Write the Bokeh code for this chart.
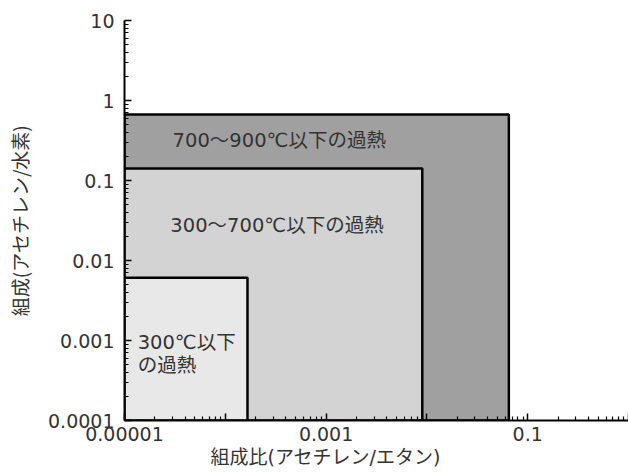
from bokeh.plotting import figure
from bokeh.models import FixedTicker, Title, ColumnDataSource
from bokeh.core.properties import value
from bokeh.embed import file_html
from bokeh.resources import INLINE

# --- data ---
region_names = ["700〜900℃以下の過熱", "300〜700℃以下の過熱", "300℃以下", "の過熱"]
x_low = [1e-5, 1e-5, 1e-5]
x_high = [0.065, 0.009, 0.000166]      # 組成比(アセチレン/エタン)
y_low = [1e-4, 1e-4, 1e-4]
y_high = [0.67, 0.141, 0.0061]         # 組成(アセチレン/水素)
fills = ["#a0a0a0", "#d3d3d3", "#e8e8e8"]

x_ticks = [1e-5, 1e-4, 1e-3, 1e-2, 1e-1, 1.0]
x_tick_labels = ["0.00001", "", "0.001", "", "0.1", ""]
y_ticks = [1e-4, 1e-3, 1e-2, 1e-1, 1.0, 10.0]
y_tick_labels = ["0.0001", "0.001", "0.01", "0.1", "1", "10"]

x_minor = [m * 10.0 ** k for k in range(-5, 0) for m in range(2, 10)]
y_minor = [m * 10.0 ** k for k in range(-4, 1) for m in range(2, 10)]

DIGIT_FONT = "DejaVu Sans"
JP_FONT = "DejaVu Sans, Noto Sans CJK JP"
TXT = "#333333"

p = figure(width=628, height=472, x_axis_type="log", y_axis_type="log",
           x_range=(1e-5, 1.0), y_range=(1e-4, 10.0),
           output_backend="svg", toolbar_location=None,
           min_border_left=124, min_border_right=0,
           min_border_top=20, min_border_bottom=52)
p.outline_line_color = None
p.grid.visible = False
p.background_fill_color = "white"

src = ColumnDataSource(dict(left=x_low, right=x_high, bottom=y_low, top=y_high, fill=fills))
p.quad(left="left", right="right", bottom="bottom", top="top", source=src,
       fill_color="fill", line_color="black", line_width=2.5)

# annotations
p.text(x=[3.0e-5], y=[0.32], text=[region_names[0]], text_font=value(JP_FONT),
       text_font_size="19.5px", text_color=TXT, text_align="left", text_baseline="middle")
p.text(x=[2.85e-5], y=[0.0274], text=[region_names[1]], text_font=value(JP_FONT),
       text_font_size="19.5px", text_color=TXT, text_align="left", text_baseline="middle")
p.text(x=[1.35e-5, 1.35e-5], y=[0.00094, 0.00049], text=region_names[2:],
       text_font=value(JP_FONT), text_font_size="19.5px", text_color=TXT,
       text_align="left", text_baseline="middle")

for ax, ticks, minor, labels in ((p.xaxis[0], x_ticks, x_minor, x_tick_labels),
                                 (p.yaxis[0], y_ticks, y_minor, y_tick_labels)):
    ax.ticker = FixedTicker(ticks=ticks, minor_ticks=minor)
    ax.major_label_overrides = {t: l for t, l in zip(ticks, labels)}
    ax.axis_line_width = 2
    ax.axis_line_color = "black"
    ax.major_tick_in = 7
    ax.major_tick_out = 0
    ax.minor_tick_in = 4
    ax.minor_tick_out = 0
    ax.major_tick_line_width = 1.5
    ax.minor_tick_line_width = 1.2
    ax.major_label_text_font = DIGIT_FONT
    ax.major_label_text_font_size = "19px"
    ax.major_label_text_color = TXT

p.yaxis.major_label_standoff = 10
p.xaxis.major_label_standoff = 6
p.yaxis.axis_label = "組成(アセチレン/水素)"
p.yaxis.axis_label_text_font = "Noto Sans CJK JP"
p.yaxis.axis_label_text_font_size = "19px"
p.yaxis.axis_label_text_font_style = "normal"
p.yaxis.axis_label_text_color = TXT
p.yaxis.axis_label_standoff = 12

xtitle = Title(text="組成比(アセチレン/エタン)", align="left", offset=86,
               text_font=JP_FONT, text_font_size="19px",
               text_font_style="normal", text_color=TXT, standoff=1)
p.add_layout(xtitle, "below")

open("out.html", "w").write(file_html(p, INLINE))
